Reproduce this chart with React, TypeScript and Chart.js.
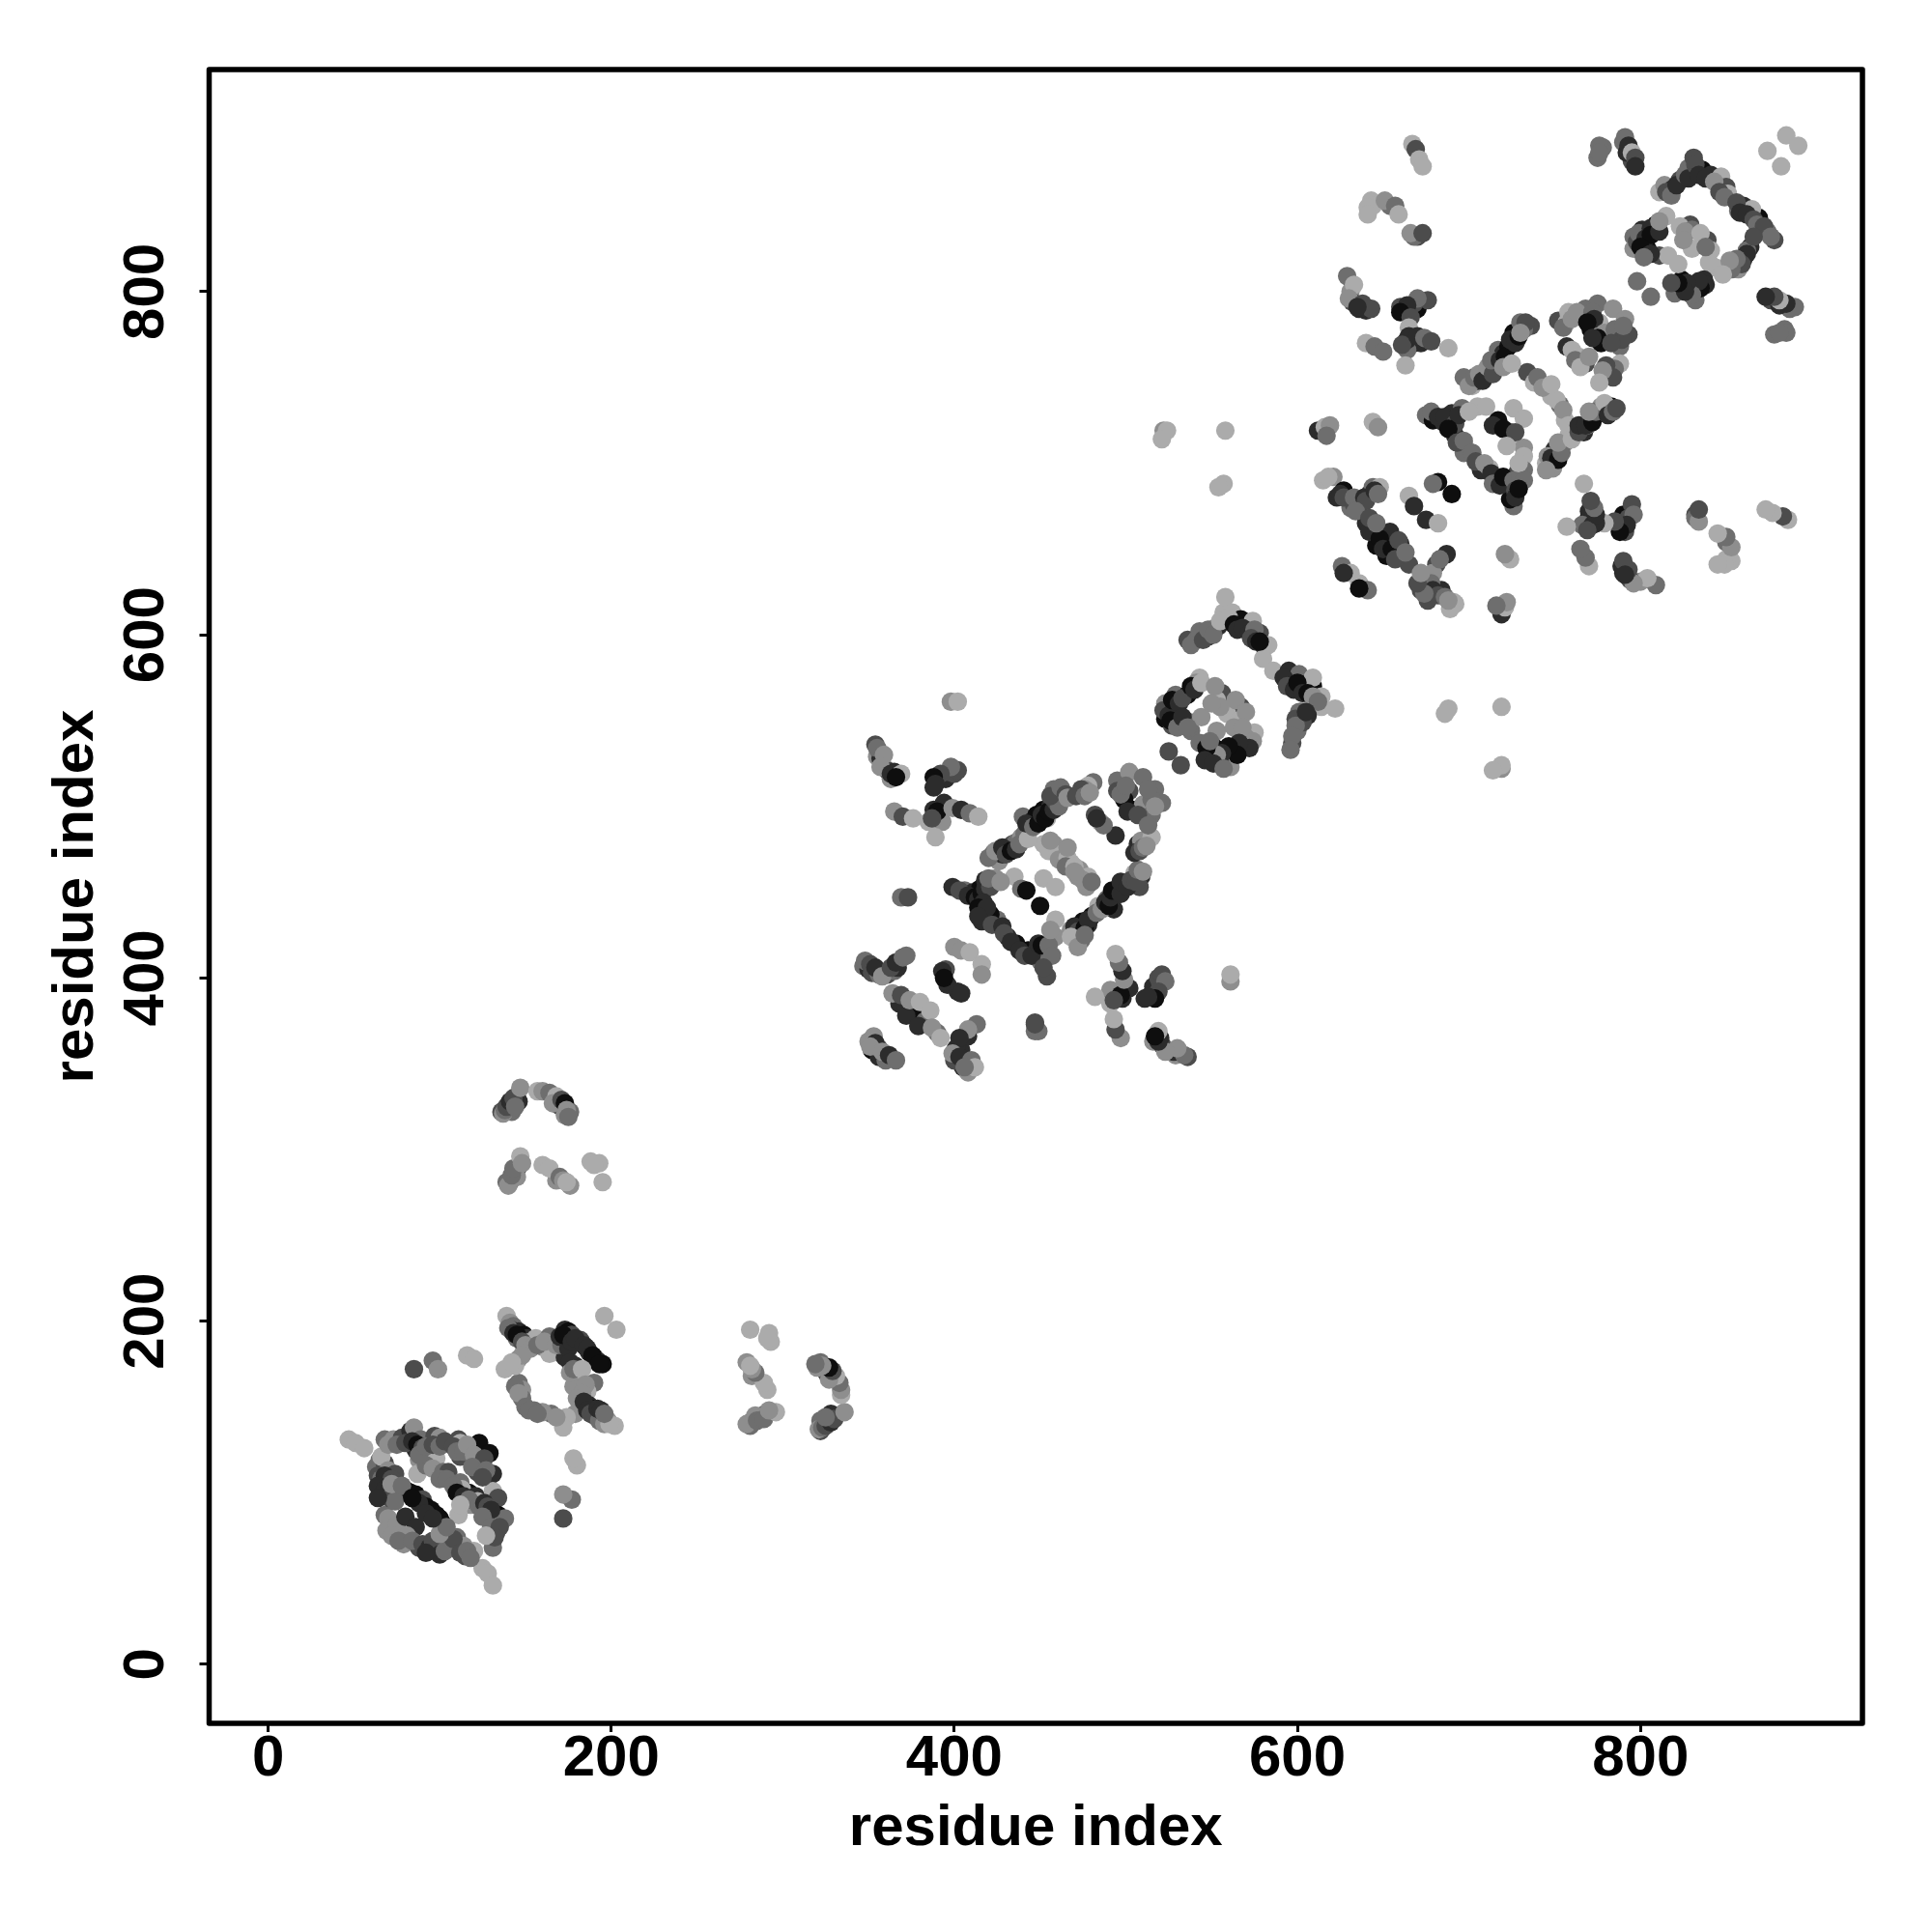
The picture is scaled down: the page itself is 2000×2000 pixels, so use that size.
import React, { useEffect, useRef } from "react";
import { Chart, registerables } from "chart.js";

Chart.register(...registerables);

type Contact = [number, number, number];

const tickValues = [0, 200, 400, 600, 800];
const axisTitle = "residue index";
// strength class of a contact, 0 = darkest, 5 = palest
const strengthGrays = ["#0e0e0e", "#2c2c2c", "#4c4c4c", "#6e6e6e", "#8e8e8e", "#ababab"];

const blockA: Contact[] = [
  [65,119,3],[63,115,3],[68,117,2],[66,121,5],[70,113,4],[74,111,2],[66,100,0],[67,98,1],[70,102,4],[68,106,3],[75,101,2],
  [68,87,3],[70,85,4],[69,78,4],[75,81,4],[68,131,3],[73,131,4],[78,132,2],[83,136,1],[85,138,4],[86,125,1],[89,131,3],
  [97,133,2],[100,132,4],[111,131,2],[112,129,5],[118,125,4],[123,129,0],[129,123,0],[112,121,2],[124,118,4],[122,112,2],[131,111,1],
  [94,122,0],[88,119,4],[98,120,5],[87,111,5],[92,116,3],[96,114,4],[102,112,3],[105,112,2],[112,106,3],[117,100,0],[113,102,5],[121,98,1],
  [122,95,5],[131,101,5],[134,97,2],[118,93,4],[127,89,3],[134,87,0],[132,85,5],[138,85,3],[111,87,5],[133,77,2],[131,72,5],[131,68,3],
  [81,101,0],[83,100,0],[86,99,0],[90,96,2],[95,90,0],[98,87,0],[100,85,0],[101,83,0],[80,86,1],[86,80,1],[79,70,4],[81,75,4],[88,68,2],
  [97,69,0],[98,66,1],[100,70,3],[104,71,2],[105,68,4],[108,68,1],[110,74,3],[114,69,4],[115,63,2],[120,66,5],
  [47,131,5],[51,129,5],[56,126,5],[125,56,5],[128,53,5],[131,46,5],
];

const blockB: Contact[] = [
  [139,203,5],[141,199,4],[143,197,3],[142,195,2],[146,194,1],[149,192,0],[151,190,1],[145,190,3],[153,188,4],[156,190,5],[164,191,3],[160,185,4],
  [167,182,5],[164,181,5],[173,195,1],[175,194,0],[177,192,2],[182,189,2],[185,185,1],[187,182,1],[190,179,0],[192,177,1],[195,175,0],
  [173,179,1],[179,174,1],[180,168,4],[182,166,5],[190,164,3],[186,159,5],[178,162,4],[187,151,1],[189,149,0],[191,147,1],[194,145,2],[196,143,3],[198,142,4],[202,139,5],
  [179,146,4],[174,144,5],[172,138,5],[165,146,3],[160,147,4],[155,148,3],[146,164,3],[148,160,4],[148,155,3],[146,178,4],[144,174,5],[138,172,5],
  [196,203,5],[203,195,5],
];

const blockC: Contact[] = [
  [399,453,1],[406,451,3],[411,450,1],[415,452,0],[418,457,1],[424,458,4],[435,459,5],[423,473,3],[426,468,4],[428,472,1],[431,476,0],[434,478,2],[436,479,3],[439,482,4],
  [445,488,5],[440,494,3],[446,492,1],[448,495,0],[452,498,0],[456,500,1],[458,510,3],[463,504,3],[461,508,5],[454,493,5],[481,514,3],[478,512,5],[474,507,1],[476,510,4],
  [495,515,3],[502,520,4],[510,517,3],[517,510,3],[521,502,3],[502,509,2],[499,504,0],[504,498,0],[510,501,4],[515,495,3],[507,478,1],[509,480,4],[515,482,5],
  [482,495,2],[485,491,5],[494,483,1],[452,478,5],[458,478,4],[463,473,4],[468,467,5],[473,463,4],[478,459,5],[477,453,4],[452,458,5],[459,453,5],[439,452,3],[442,451,0],[450,442,0],
  [459,434,5],[459,424,4],[417,438,0],[425,434,3],[416,433,1],[421,437,0],[431,424,1],[436,420,0],[443,416,0],[448,416,1],[453,416,1],[450,410,3],[454,401,2],
  [470,424,4],[474,422,3],[475,433,0],[478,431,1],[480,436,0],[484,442,5],[489,446,3],[493,448,0],[495,452,1],[499,454,1],[505,461,5],[509,459,1],[508,453,2],[493,440,1],
];

const blockD: Contact[] = [
  [536,597,2],[541,597,3],[543,602,3],[548,599,1],[552,604,4],[554,605,1],[557,613,5],[558,622,5],[562,613,5],[567,609,0],[570,604,0],[574,608,5],[578,601,2],[580,594,1],[583,594,5],[580,586,5],[586,579,5],
  [595,579,1],[597,573,1],[601,577,3],[603,571,0],[609,570,0],[609,575,5],[614,564,5],[614,558,5],[622,557,5],[606,558,5],[601,555,3],[599,551,2],[600,544,3],[597,537,2],[606,553,1],
  [523,560,4],[526,558,1],[529,565,3],[536,565,0],[543,575,5],[541,572,4],[523,551,0],[527,547,2],[537,549,3],[538,544,3],[556,566,2],[553,562,5],[567,558,2],[559,554,5],[566,550,5],[544,552,4],[553,544,4],
  [575,543,5],[570,540,4],[569,535,0],[562,532,0],[557,527,3],[552,534,0],[548,530,1],[543,537,3],[561,523,4],[555,525,2],[525,532,2],[532,524,2],
];

const blockE: Contact[] = [
  [697,750,3],[702,745,5],[705,748,1],[709,753,2],[712,752,0],[715,758,5],[717,766,3],[720,764,1],[723,768,0],[726,776,0],[728,772,1],[730,782,3],[736,780,2],
  [752,783,2],[758,788,5],[757,782,5],[768,790,3],[775,793,3],[784,790,4],[791,784,4],[793,775,2],[771,778,0],[776,782,5],[777,770,0],[788,768,3],[783,776,5],
  [757,768,1],[760,766,5],[768,758,2],[764,762,5],[782,753,1],[788,758,5],[785,755,3],[734,753,2],[738,747,5],[748,739,5],[753,734,3],[756,725,5],[726,732,5],[732,726,5],
  [717,725,0],[724,718,1],[725,713,5],[732,709,4],[732,704,5],[698,709,5],[692,716,1],[675,728,3],[679,725,0],[685,724,1],[690,729,1],[696,732,3],[705,733,5],[710,733,5],[692,726,3],
  [697,706,3],[707,696,1],[712,697,5],[716,690,2],[722,690,0],[724,686,0],[726,675,3],[724,679,0],[732,696,3],[728,694,2],
  [745,700,5],[749,697,4],[750,708,1],[756,712,4],[758,716,5],[767,718,1],[771,727,1],[777,733,4],[783,733,0],[769,722,3],
];

const nearE: Contact[] = [
  [615,690,5],[621,692,4],[623,680,1],[627,684,0],[629,679,1],[631,674,3],[637,677,2],[642,682,1],[644,686,3],[648,686,5],
  [640,665,1],[645,661,3],[646,652,0],[654,660,1],[652,646,0],[660,653,1],[661,645,3],[665,641,2],
  [682,689,0],[690,682,0],[679,688,3],[665,681,5],[668,675,1],[675,667,1],[682,665,5],
  [626,640,3],[631,636,5],[627,636,1],[636,630,5],[641,626,3],[636,627,0],
  [687,647,1],[681,641,2],[679,636,4],[674,630,3],[677,624,1],[684,626,1],[691,619,5],[692,618,5],[689,615,5],[672,626,2],
];

const blockF: Contact[] = [
  [811,858,5],[814,862,4],[819,860,1],[823,865,2],[828,872,3],[831,878,2],[836,871,0],[841,868,1],[847,867,5],[850,861,2],[851,857,5],[860,850,1],[869,843,0],[865,848,5],[857,847,3],[874,835,3],[878,830,2],[870,836,4],
  [864,826,1],[860,819,1],[857,813,4],[862,824,3],[854,817,3],[844,814,5],[840,817,5],[837,807,1],[832,801,2],[832,795,3],[824,807,0],[821,802,1],[820,799,3],[829,803,4],
  [796,832,3],[801,836,1],[809,839,0],[815,844,5],[804,825,0],[796,825,4],[811,821,2],[829,839,2],[823,838,5],[839,830,2],[841,824,5],[816,821,5],[822,816,5],[830,825,5],
  [798,806,3],[806,797,3],[874,882,5],[885,891,5],[892,885,5],[882,873,5],
];

// contacts away from the diagonal: listed once with y > x, the map holds them at (y, x) too
const offDiagonal: Contact[] = [
  [141,325,1],[145,331,2],[142,322,3],[136,322,2],[146,328,1],[143,327,1],[171,325,1],[176,322,3],[169,326,2],[173,320,4],
  [141,281,3],[144,286,3],[146,290,2],[145,284,4],[168,282,4],[176,279,4],
  [355,529,4],[357,528,1],[361,521,2],[363,516,4],[365,520,1],
  [388,511,1],[395,516,1],[397,520,2],[400,519,2],[392,498,0],[388,498,1],[385,491,5],[393,491,4],
  [670,790,0],[664,788,1],[668,793,2],[660,791,2],[668,770,0],[672,770,1],[664,766,3],[664,772,1],
  [631,800,4],[632,794,2],[636,790,1],[640,789,1],[670,832,2],[668,832,3],
  [643,853,5],[654,850,3],[644,850,5],[790,887,3],[795,876,2],[792,881,1],[775,878,3],[778,884,3],
  [85,172,2],[96,177,3],[99,172,4],[116,180,5],[120,178,5],
  [137,321,4],[138,323,3],[139,325,2],[141,328,1],[143,330,2],[144,325,3],[147,336,4],[157,334,5],[160,334,4],[164,333,3],[168,331,5],[166,327,4],[171,329,2],[173,327,0],[174,323,4],[175,319,3],
  [139,281,3],[140,279,4],[142,285,3],[143,289,3],[147,296,5],[148,292,4],[160,291,5],[164,289,5],[170,284,3],[172,282,4],[174,281,5],[188,293,5],[193,292,5],[190,291,5],[195,281,5],
  [354,536,2],[355,534,3],[359,530,4],[357,523,4],[363,519,1],[369,519,5],[366,517,0],
  [402,521,2],[398,523,3],[392,519,2],[388,517,0],[389,513,1],[394,502,1],[390,497,0],[387,493,2],[399,499,4],[404,498,1],[409,496,3],[414,494,5],[389,482,5],
  [365,497,4],[370,494,2],[376,493,5],[398,561,4],[402,561,5],[369,447,3],[373,447,2],
  [522,719,4],[524,719,5],[521,714,5],[558,719,5],[557,688,5],[554,686,5],[612,719,1],[616,721,5],[619,722,4],[617,716,3],[644,724,5],[647,721,4],
  [667,886,5],[669,883,2],[671,877,5],[673,873,5],[666,834,4],[673,834,2],[641,849,5],[641,845,5],[651,853,4],[657,850,3],[659,845,5],
  [629,809,3],[633,804,5],[630,796,4],[638,793,2],[643,790,2],[635,791,1],
  [676,795,2],[670,796,3],[664,792,1],[660,788,0],[666,785,2],[665,779,5],[665,774,1],[661,769,2],[670,774,1],[674,773,3],[678,771,2],[688,767,5],[663,757,5],
  [640,770,5],[645,768,3],[650,765,3],[776,885,3],[776,881,3],[791,890,3],[793,885,1],[795,881,5],[797,878,2],[797,873,1],
];

const lowerCluster: Contact[] = [
  [347,407,3],[350,405,1],[352,403,2],[356,402,3],[361,402,2],[365,404,3],[367,406,1],[352,358,0],[356,354,1],[360,352,3],[368,385,1],[372,383,1],[375,381,1],[378,378,0],[383,375,3],[390,368,3],[350,363,4],[356,359,2],[395,405,2],[396,396,1],[405,348,1],[408,345,4],[400,352,2],[404,358,1],[408,366,1],[401,359,1],
  [348,410,3],[351,408,2],[354,406,1],[358,401,4],[363,406,2],[366,409,1],[370,412,3],[372,413,3],[364,391,4],[369,390,2],[372,378,1],[374,387,4],[380,386,5],[386,381,5],[379,372,1],[387,371,4],[392,365,5],
  [353,366,4],[354,362,1],[351,360,4],[358,357,4],[362,355,1],[366,352,3],[393,404,1],[394,400,0],[402,392,1],[404,391,1],[400,418,4],[404,416,4],[409,415,5],[416,408,5],[416,402,4],
  [413,373,3],[408,370,4],[403,365,1],[399,356,4],[403,354,1],[410,352,3],[412,348,5],[406,348,3],[447,374,2],[449,369,3],
];

const fillA: Contact[] = [
  [64,110,2],[66,108,3],[68,110,1],[72,108,2],[64,104,1],[68,102,1],[71,97,2],[74,95,3],[72,105,4],[78,104,3],[64,97,1],
  [70,128,4],[75,128,3],[80,129,2],[84,130,1],[87,128,0],[90,126,2],[88,122,3],[92,127,3],[96,128,2],[100,127,3],[103,130,2],[108,127,2],[110,124,3],[114,124,3],[116,128,4],[120,122,4],[126,120,2],[119,115,3],[127,113,3],[125,109,2],
  [100,108,3],[104,108,3],[108,104,3],[110,100,0],[114,98,1],[117,96,3],[112,93,5],[123,92,3],[126,94,1],[128,92,2],[130,90,1],[125,86,3],[130,80,3],[135,80,2],[132,74,2],[127,75,5],
  [72,75,4],[76,72,3],[84,72,3],[90,70,2],[94,68,1],[96,72,2],[100,64,1],[103,66,3],[108,73,2],[112,65,2],[116,66,3],[118,62,3],[92,65,1],[100,76,4],[104,80,3],
  [92,92,0],[88,94,1],[84,97,0],[92,88,1],[96,85,1],
];

const fillB: Contact[] = [
  [140,196,3],[143,193,1],[145,192,0],[148,188,2],[150,186,4],[153,184,4],[157,186,3],[161,188,4],[168,186,4],[171,186,3],[175,184,1],[170,191,1],[172,192,0],[177,188,1],[179,190,1],[184,186,1],[186,184,1],[189,180,0],[193,175,0],[176,176,1],[176,170,4],[178,172,3],[183,172,5],[185,163,4],[183,158,4],[180,155,4],[184,153,1],[186,148,1],[188,146,2],[190,145,2],[193,142,3],[196,140,4],[199,140,5],[192,149,1],[194,148,1],[196,146,3],[144,162,3],[146,158,4],[150,150,3],[152,148,3],[157,146,3],[168,144,4],[148,180,4],[142,176,5],
];

const fillC: Contact[] = [
  [420,470,3],[424,474,4],[428,476,1],[430,472,2],[433,474,0],[436,475,1],[438,478,3],[441,484,3],[443,481,5],[442,490,1],[446,488,3],[449,490,0],[451,495,1],[453,493,0],[455,497,0],[458,498,1],[459,503,2],[461,500,3],[456,506,2],[462,511,3],[465,507,2],[466,505,4],
  [403,451,2],[408,448,1],[412,447,0],[414,446,1],[416,449,0],[418,452,1],[421,453,2],[420,458,3],[427,456,4],[417,444,1],[414,441,0],[419,441,1],[414,436,1],[422,431,2],[428,430,1],[429,426,2],[433,421,1],[438,416,1],[441,413,2],[445,413,1],[449,420,1],[451,419,0],[455,419,3],[457,413,3],[452,406,2],[456,428,4],
  [468,428,4],[470,430,1],[472,427,2],[476,429,0],[478,434,1],[483,438,3],[486,440,4],[488,444,1],[490,442,0],[491,447,1],[492,451,0],[497,449,1],[497,456,1],[501,453,1],[503,457,2],[506,456,2],[507,463,3],[510,462,4],[468,424,5],[472,418,4],[476,425,3],
  [495,509,2],[497,507,3],[500,512,3],[515,504,3],[517,500,4],[513,510,3],[501,497,1],[507,495,2],[513,489,3],[505,473,1],[508,474,2],[510,476,3],[512,477,4],
  [455,474,5],[460,472,5],[461,469,4],[466,470,5],[465,465,3],[470,465,5],[472,459,4],[475,457,4],[480,456,3],[456,480,4],[466,476,4],[470,462,4],[487,489,3],[483,493,1],[474,510,2],[471,506,2],[476,506,3],[479,508,4],
];

const fillD: Contact[] = [
  [538,594,3],[545,597,2],[548,603,3],[551,600,3],[555,608,5],[560,610,5],[563,606,0],[565,603,1],[568,604,1],[572,601,1],[575,603,3],[573,598,2],[576,596,1],[578,596,0],[592,575,1],[594,570,2],[598,568,1],[600,572,0],[603,566,1],[606,566,0],[609,564,4],[612,561,3],[603,549,2],[599,547,3],[597,541,3],[596,533,3],[605,555,1],
  [522,556,2],[525,553,1],[527,562,0],[531,560,1],[533,563,2],[538,570,0],[540,568,1],[544,572,5],[526,550,0],[530,546,3],[533,552,1],[536,546,3],[552,570,4],[555,558,4],[550,560,4],[564,562,4],[570,555,4],[563,546,4],[568,546,4],
  [574,538,4],[572,534,1],[566,537,1],[565,530,0],[560,535,0],[556,531,1],[553,530,4],[547,534,0],[546,527,1],[551,525,1],[557,522,3],[549,538,3],
];

const fillE: Contact[] = [
  [700,745,4],[703,750,3],[706,752,4],[708,748,1],[711,756,4],[714,752,2],[713,760,3],[718,760,1],[721,762,0],[724,772,1],[727,770,1],[729,774,0],[732,778,3],[733,782,2],[730,776,4],[720,756,4],[725,758,5],
  [755,779,3],[760,784,4],[763,788,4],[772,788,3],[773,784,1],[769,782,0],[779,776,4],[785,778,3],[789,772,2],[790,780,3],[775,773,0],[783,770,2],[772,773,1],
  [762,760,3],[765,756,5],[770,762,4],[780,757,2],[784,750,2],[778,754,4],[776,747,5],[740,750,3],[743,744,4],[751,737,5],[755,731,4],[758,722,5],[748,746,5],
  [714,722,1],[720,720,0],[727,718,2],[722,710,5],[678,730,3],[682,727,1],[686,727,1],[692,723,2],[694,728,1],[688,720,0],[693,712,2],[697,713,3],[700,730,5],[702,706,3],[704,701,2],[709,700,4],[713,694,1],[714,688,3],[718,687,1],[720,692,0],[726,690,3],[730,692,3],[727,684,2],[729,700,5],[727,680,1],[732,690,3],[729,685,0],
  [746,704,4],[748,703,1],[752,702,0],[754,706,3],[745,696,4],[752,712,4],[760,714,5],[764,718,2],[764,722,1],[768,722,1],[772,724,0],[774,730,3],[779,735,5],[781,728,1],[784,730,3],[786,732,2],[770,730,4],
];

const fillNearE: Contact[] = [
  [618,692,5],[625,682,1],[627,680,2],[633,676,2],[633,680,3],[639,680,1],[640,678,2],[645,684,1],[647,682,3],[634,672,3],
  [642,660,1],[642,668,2],[648,656,0],[650,650,1],[655,650,0],[657,644,2],[659,655,2],[663,648,3],[646,665,3],
  [683,644,3],[678,630,3],[679,626,1],[682,623,2],[676,620,2],[674,624,3],[670,630,2],[686,622,3],[688,620,4],[672,636,4],
];

const fillF: Contact[] = [
  [815,858,2],[818,856,3],[821,862,1],[826,868,3],[828,866,1],[832,874,2],[834,868,1],[838,866,1],[843,864,4],[846,858,2],[849,855,3],[856,852,2],[858,846,1],[862,845,1],[866,842,2],[868,839,3],[872,838,2],[876,832,3],
  [866,832,2],[862,822,1],[859,816,2],[856,819,3],[853,813,3],[852,818,4],[848,810,5],[838,804,1],[835,802,0],[834,806,1],[830,798,3],[827,805,1],[826,800,1],[822,805,0],[818,805,2],
  [798,829,2],[799,834,3],[803,831,1],[806,837,1],[806,833,0],[811,835,1],[811,841,4],[800,826,0],[806,822,1],[802,820,3],[830,836,3],[826,835,4],[835,834,5],[838,826,3],[825,830,4],
];

const directBlocks = [fillA, blockA, fillB, blockB, lowerCluster, fillC, blockC, fillD, blockD, fillNearE, nearE, fillE, blockE, fillF, blockF];

const frameBox = {
  id: "frameBox",
  afterDatasetsDraw(chart: any) {
    const { ctx, chartArea: a } = chart;
    ctx.save();
    ctx.strokeStyle = "#000";
    ctx.lineWidth = 5.5;
    ctx.lineJoin = "round";
    ctx.strokeRect(a.left, a.top, a.right - a.left, a.bottom - a.top);
    ctx.restore();
  },
};

const axisFont = { family: "'Liberation Sans', Arial, sans-serif", weight: "bold" as const, size: 60 };

function App() {
  const ref = useRef<HTMLCanvasElement>(null);
  useEffect(() => {
    const toDataset = (points: Contact[]) => ({
      data: points.map(([x, y]) => ({ x, y })),
      pointBackgroundColor: points.map((p) => strengthGrays[p[2]]),
      pointRadius: 9.6,
      pointBorderWidth: 0,
      showLine: false,
    });
    const mirrored: Contact[] = offDiagonal.map(([x, y, s]) => [y, x, s]);
    const chart = new Chart(ref.current!, {
      type: "scatter",
      data: { datasets: [offDiagonal, mirrored, ...directBlocks].map(toDataset) },
      options: {
        responsive: false,
        animation: false,
        events: [],
        layout: { padding: { top: 72, right: 72, left: 0, bottom: 0 } },
        plugins: { legend: { display: false }, tooltip: { enabled: false } },
        scales: {
          x: {
            type: "linear",
            min: -34.4,
            max: 929.4,
            afterBuildTicks: (axis: any) => { axis.ticks = tickValues.map((value) => ({ value })); },
            afterFit: (axis: any) => { axis.height = 216; },
            grid: { drawOnChartArea: false, drawTicks: true, tickLength: 9, tickWidth: 3, tickColor: "#000" },
            border: { display: false },
            ticks: { color: "#000", font: axisFont, padding: -8, maxRotation: 0, autoSkip: false },
            title: { display: true, text: axisTitle, color: "#000", font: { ...axisFont, lineHeight: 1.2 }, padding: { top: 0, bottom: 71 } },
          },
          y: {
            type: "linear",
            min: -34.4,
            max: 929.4,
            afterBuildTicks: (axis: any) => { axis.ticks = tickValues.map((value) => ({ value })); },
            afterFit: (axis: any) => { axis.width = 216.5; },
            grid: { drawOnChartArea: false, drawTicks: true, tickLength: 10, tickWidth: 3, tickColor: "#000" },
            border: { display: false },
            ticks: { color: "#000", font: axisFont, padding: 4, minRotation: 90, maxRotation: 90, crossAlign: "center", autoSkip: false },
            title: { display: true, text: axisTitle, color: "#000", font: { ...axisFont, lineHeight: 1.2 }, padding: { top: 43, bottom: 0 } },
          },
        },
      },
      plugins: [frameBox],
    } as any);
    return () => chart.destroy();
  }, []);
  return (
    <canvas
      ref={ref}
      width={2000}
      height={2000}
      style={{ position: "absolute", left: 0, top: 0, width: 2000, height: 2000, display: "block", background: "#fff" }}
    />
  );
}

export default App;
